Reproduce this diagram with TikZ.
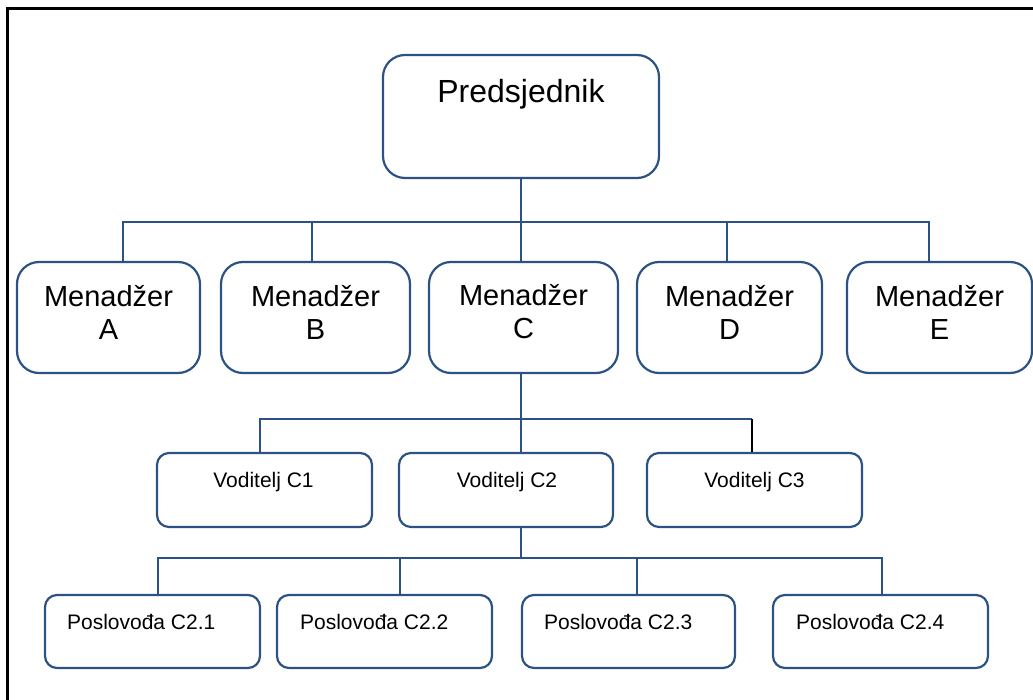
\documentclass[tikz,border=0pt]{standalone}
\usepackage{fontspec}
\setmainfont{Liberation Sans}
\definecolor{lineblue}{RGB}{44,82,132}
\begin{document}
\begin{tikzpicture}[x=1pt,y=-1pt,
  bigbox/.style={draw=lineblue,line width=2.2pt,rounded corners=22pt,inner sep=0pt,fill=white},
  smallbox/.style={draw=lineblue,line width=2.2pt,rounded corners=12pt,inner sep=0pt,fill=white},
  conn/.style={draw=lineblue,line width=2pt},
  blackconn/.style={draw=black,line width=2pt},
  frame/.style={draw=black,line width=3pt},
  ptext/.style={font=\fontsize{32}{38}\selectfont,inner sep=0pt},
  mtext/.style={font=\fontsize{29}{33}\selectfont,align=center,inner sep=0pt},
  stext/.style={font=\fontsize{21}{25}\selectfont,inner sep=0pt}]
\useasboundingbox (0,0) rectangle (1033,700);
% frame (top and left edges visible)
\coordinate (fo) at (7.5,8.5);
\coordinate (fr) at (1040,8.5);
\coordinate (fb) at (7.5,710);
\draw[frame] (fr) -- (fo) -- (fb);

% bar levels
\coordinate (bar1) at (0,222);
\coordinate (bar2) at (0,419);
\coordinate (bar3) at (0,558);

% boxes
\node[bigbox,minimum width=276pt,minimum height=123pt] (pres) at (521,116.5) {};
\node[bigbox,minimum width=183pt,minimum height=111pt] (mA) at (108.5,317.5) {};
\node[bigbox,minimum width=189pt,minimum height=111pt] (mB) at (315.5,317.5) {};
\node[bigbox,minimum width=189pt,minimum height=111pt] (mC) at (523.5,317.5) {};
\node[bigbox,minimum width=185pt,minimum height=111pt] (mD) at (729.5,317.5) {};
\node[bigbox,minimum width=185pt,minimum height=111pt] (mE) at (939.5,317.5) {};
\node[smallbox,minimum width=215pt,minimum height=74pt] (v1) at (264.5,490) {};
\node[smallbox,minimum width=214pt,minimum height=74pt] (v2) at (506,490) {};
\node[smallbox,minimum width=215pt,minimum height=74pt] (v3) at (754.5,490) {};
\node[smallbox,minimum width=215pt,minimum height=73pt] (p1) at (152.5,631.5) {};
\node[smallbox,minimum width=215pt,minimum height=73pt] (p2) at (384.5,631.5) {};
\node[smallbox,minimum width=213pt,minimum height=73pt] (p3) at (628.5,631.5) {};
\node[smallbox,minimum width=215pt,minimum height=73pt] (p4) at (880.5,631.5) {};

% level 1
\draw[conn] (pres.south) -- (pres.south |- bar1);
\draw[conn] ([xshift=14.5pt]mA.north) |- ([xshift=-10.5pt]mE.north |- bar1) -- ([xshift=-10.5pt]mE.north);
\draw[conn] ([xshift=-3.5pt]mB.north) -- ([xshift=-3.5pt]mB.north |- bar1);
\draw[conn] ([xshift=-2.5pt]mC.north) -- ([xshift=-2.5pt]mC.north |- bar1);
\draw[conn] ([xshift=-2.5pt]mD.north) -- ([xshift=-2.5pt]mD.north |- bar1);

% level 2
\draw[conn] ([xshift=-2.5pt]mC.south) -- ([xshift=15pt]v2.north);
\draw[conn] ([xshift=-4.5pt]v1.north) |- ([xshift=-2.5pt]v3.north |- bar2);
\draw[blackconn] ([xshift=-2.5pt]v3.north) -- ([xshift=-2.5pt]v3.north |- bar2);

% level 3
\draw[conn] ([xshift=15pt]v2.south) -- ([xshift=15pt]v2.south |- bar3);
\draw[conn] ([xshift=5.5pt]p1.north) |- ([xshift=1.5pt]p4.north |- bar3) -- ([xshift=1.5pt]p4.north);
\draw[conn] ([xshift=15pt]p2.north) -- ([xshift=15pt]p2.north |- bar3);
\draw[conn] ([xshift=8.5pt]p3.north) -- ([xshift=8.5pt]p3.north |- bar3);

% texts
\node[ptext] (presT) at (521,94) {Predsjednik};
\node[mtext] (mAT) at (108.5,312) {Menadžer\\A};
\node[mtext] (mBT) at (315.5,312) {Menadžer\\B};
\node[mtext] (mCT) at (523.5,312) {Menadžer\\C};
\node[mtext] (mDT) at (729.5,312) {Menadžer\\D};
\node[mtext] (mET) at (939.5,312) {Menadžer\\E};
\node[stext] (v1T) at (263.5,482) {Voditelj C1};
\node[stext] (v2T) at (507,482) {Voditelj C2};
\node[stext] (v3T) at (754.5,482) {Voditelj C3};
\node[stext,anchor=west] (p1T) at ([xshift=23pt]p1.west |- 0,622) {Poslovođa C2.1};
\node[stext,anchor=west] (p2T) at ([xshift=24pt]p2.west |- 0,622) {Poslovođa C2.2};
\node[stext,anchor=west] (p3T) at ([xshift=23pt]p3.west |- 0,622) {Poslovođa C2.3};
\node[stext,anchor=west] (p4T) at ([xshift=24pt]p4.west |- 0,622) {Poslovođa C2.4};
\end{tikzpicture}
\end{document}
